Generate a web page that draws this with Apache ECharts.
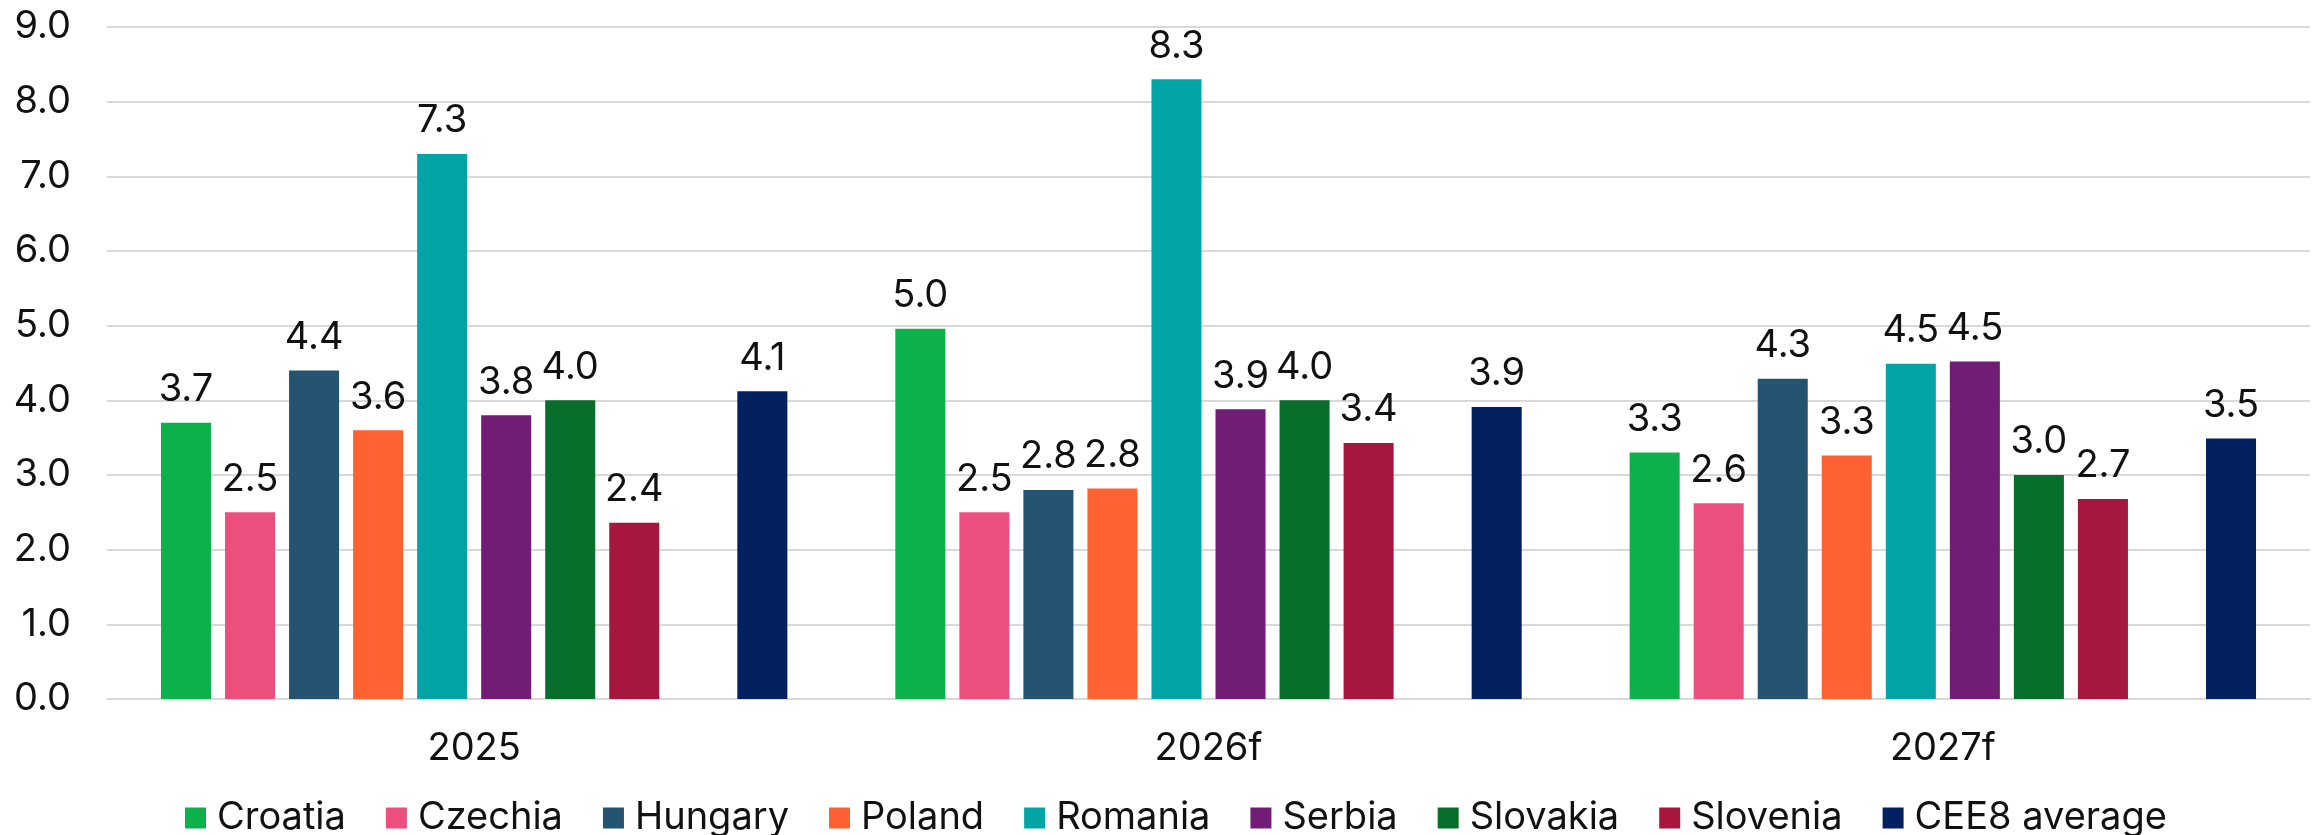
<!DOCTYPE html>
<html lang="en">
<head>
    <meta charset="UTF-8">
    <title>CEE8 growth</title>
    <script src="https://cdn.jsdelivr.net/npm/echarts@6.0.0/dist/echarts.min.js"></script>
    <style>
      html, body { margin: 0; padding: 0; background: #fff; }
    </style>
</head>
<body>

    <div id="main" style="width: 2320px;height:835px;"></div>

    <script type="text/javascript">

      // years on the x axis
      var years = ['2025', '2026f', '2027f']

      // values per country, one per year
      var croatia  = [3.70, 4.96, 3.30]
      var czechia  = [2.50, 2.50, 2.62]
      var hungary  = [4.40, 2.80, 4.29]
      var poland   = [3.60, 2.82, 3.26]
      var romania  = [7.30, 8.30, 4.49]
      var serbia   = [3.80, 3.88, 4.52]
      var slovakia = [4.00, 4.00, 3.00]
      var slovenia = [2.36, 3.43, 2.68]
      var cee8     = [4.12, 3.91, 3.49]

      var yTicks = [0, 1, 2, 3, 4, 5, 6, 7, 8, 9]

      var countries = [
        { name: 'Croatia',      data: croatia,  color: '#0db14b' },
        { name: 'Czechia',      data: czechia,  color: '#ec4e7d' },
        { name: 'Hungary',      data: hungary,  color: '#255372' },
        { name: 'Poland',       data: poland,   color: '#ff6232' },
        { name: 'Romania',      data: romania,  color: '#02a4a6' },
        { name: 'Serbia',       data: serbia,   color: '#711c75' },
        { name: 'Slovakia',     data: slovakia, color: '#086e2b' },
        { name: 'Slovenia',     data: slovenia, color: '#a7163d' },
        { name: '_gap',         data: [null, null, null], color: '#ffffff' },  // empty slot before the average
        { name: 'CEE8 average', data: cee8,     color: '#03215e' }
      ]

      var font = 'Inter'
      var fs = 38

      var myChart = echarts.init(document.getElementById('main'));

      var series = countries.map(function (c) {
        return {
          name: c.name,
          type: 'bar',
          data: c.data,
          barGap: '28%',
          barCategoryGap: '14.7%',
          itemStyle: { color: c.color },
          label: {
            show: c.name !== '_gap',
            position: 'top',
            distance: 14,
            fontFamily: font,
            fontSize: fs,
            color: '#111',
            formatter: function (p) { return p.value.toFixed(1) }
          }
        }
      })

      var option = {
        animation: false,
        textStyle: { fontFamily: font },
        grid: {
          left: 107,
          right: 10,
          top: 27,
          bottom: 136
        },
        legend: {
          data: countries.filter(function (c) { return c.name !== '_gap' }).map(function (c) { return c.name }),
          top: 799,
          left: 185,
          padding: 0,
          itemWidth: 21,
          itemHeight: 21,
          itemGap: 40,
          icon: 'rect',
          textStyle: {
            fontFamily: font,
            fontSize: fs,
            color: '#111',
            padding: [0, 0, 0, 6]
          }
        },
        xAxis: {
          type: 'category',
          data: years,
          axisLine: { lineStyle: { color: '#d9d9d9', width: 2 } },
          axisTick: { show: false },
          axisLabel: {
            fontFamily: font,
            fontSize: fs,
            color: '#111',
            margin: 31
          }
        },
        yAxis: {
          type: 'value',
          min: yTicks[0],
          max: yTicks[yTicks.length - 1],
          interval: 1,
          axisLine: { show: false },
          axisTick: { show: false },
          splitLine: { lineStyle: { color: '#d9d9d9', width: 2 } },
          axisLabel: {
            fontFamily: font,
            fontSize: fs,
            color: '#111',
            margin: 36,
            formatter: function (v) { return v.toFixed(1) }
          }
        },
        series: series
      };

      myChart.setOption(option);

    </script>
  </body>
</html>
